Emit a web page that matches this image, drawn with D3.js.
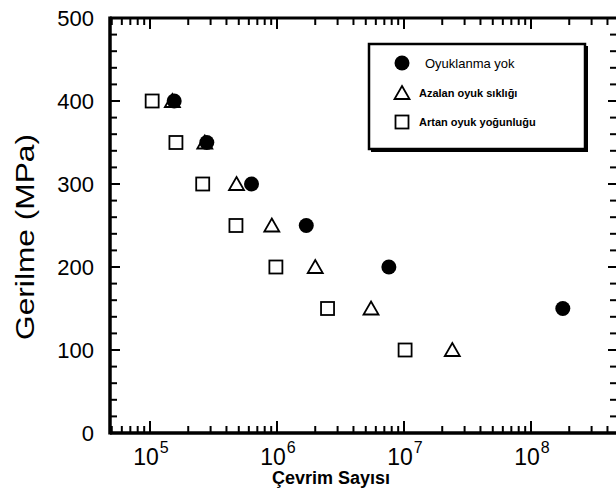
<!DOCTYPE html>
<html><head><meta charset="utf-8">
<script src="https://cdn.jsdelivr.net/npm/d3@7"></script>
<style>body{margin:0;background:#fff}svg{display:block}</style>
</head><body>
<script>
const W = 616, H = 496;
// Data
const seriesNames = ["Oyuklanma yok", "Azalan oyuk sıklığı", "Artan oyuk yoğunluğu"];
const noPitStress = [400, 350, 300, 250, 200, 150];
const noPitCycles = [1.55e5, 2.8e5, 6.3e5, 1.7e6, 7.6e6, 1.78e8];
const decreasingStress = [400, 350, 300, 250, 200, 150, 100];
const decreasingCycles = [1.5e5, 2.7e5, 4.8e5, 9.1e5, 2.0e6, 5.5e6, 2.4e7];
const increasingStress = [400, 350, 300, 250, 200, 150, 100];
const increasingCycles = [1.04e5, 1.6e5, 2.6e5, 4.75e5, 9.8e5, 2.5e6, 1.02e7];
const yTicks = [0, 100, 200, 300, 400, 500];
const xDecades = [5, 6, 7, 8];
const xTitle = "Çevrim Sayısı";
const yTitle = "Gerilme (MPa)";

const L = 110, R = 618, T = 18, B = 433;
const x = d3.scaleLog().domain([Math.pow(10, 4.685), Math.pow(10, 8.685)]).range([L, R]);
const y = d3.scaleLinear().domain([0, 500]).range([B, T]);

const svg = d3.select("body").append("svg").attr("width", W).attr("height", H)
  .style("font-family", "Liberation Sans, Arial, sans-serif");

// tick values
const minorX = [];
for (let e = 4; e <= 8; e++) for (let m = 2; m <= 9; m++) {
  const v = m * Math.pow(10, e);
  if (v >= x.domain()[0] && v <= x.domain()[1]) minorX.push(v);
}
const majorX = xDecades.map(e => Math.pow(10, e));
const minorY = d3.range(20, 500, 20).filter(v => v % 100 !== 0);

const axes = svg.append("g");
function ticksX(vals, y0, len) {
  axes.append("g").selectAll("line").data(vals).join("line")
    .attr("x1", d => x(d)).attr("x2", d => x(d)).attr("y1", y0).attr("y2", y0 + len)
    .attr("stroke", "#000").attr("stroke-width", 2);
}
function ticksY(vals, x0, len) {
  axes.append("g").selectAll("line").data(vals).join("line")
    .attr("y1", d => y(d)).attr("y2", d => y(d)).attr("x1", x0).attr("x2", x0 + len)
    .attr("stroke", "#000").attr("stroke-width", 2);
}
ticksX(minorX, B, -7); ticksX(majorX, B, -12);
ticksX(minorX, T, 7); ticksX(majorX, T, 11);
ticksY(minorY, L, 7); ticksY(yTicks, L, 10);
ticksY(minorY, R, -8); ticksY(yTicks, R, -10);

// frame
function seg(x1, y1, x2, y2, w) {
  axes.append("line").attr("x1", x1).attr("x2", x2).attr("y1", y1).attr("y2", y2)
    .attr("stroke", "#000").attr("stroke-width", w);
}
seg(L, T, R, T, 3);
seg(R, T, R, B, 3);
seg(L, B, R, B, 3.5);
seg(L, T - 1.5, L, B + 1.5, 3.5);

// y labels
svg.append("g").selectAll("text").data(yTicks).join("text")
  .attr("x", 94).attr("y", d => y(d)).attr("dy", "0.36em")
  .attr("text-anchor", "end").attr("font-size", 22).text(d => d);
// x labels
const xl = svg.append("g").selectAll("text").data(xDecades).join("text")
  .attr("x", d => x(Math.pow(10, d)) + 1).attr("y", 465)
  .attr("text-anchor", "middle").attr("font-size", 23);
xl.append("tspan").text("10");
xl.append("tspan").attr("font-size", 16).attr("dy", -12).attr("dx", 1).text(d => d);

// titles
svg.append("text").attr("x", 331).attr("y", 484).attr("text-anchor", "middle")
  .attr("font-size", 18).attr("font-weight", "bold").text(xTitle);
svg.append("text").attr("transform", "translate(34,237) rotate(-90)")
  .attr("text-anchor", "middle").attr("font-size", 25)
  .attr("textLength", 206).attr("lengthAdjust", "spacingAndGlyphs").text(yTitle);

// markers
const sym = {
  square: (g, cx, cy) => g.append("rect").attr("x", cx - 6.5).attr("y", cy - 6.5).attr("width", 13).attr("height", 13)
    .attr("fill", "none").attr("stroke", "#000").attr("stroke-width", 1.8),
  triangle: (g, cx, cy) => g.append("path").attr("d", `M${cx},${cy - 7}L${cx + 7.5},${cy + 6}L${cx - 7.5},${cy + 6}Z`)
    .attr("fill", "none").attr("stroke", "#000").attr("stroke-width", 1.8),
  circle: (g, cx, cy) => g.append("circle").attr("cx", cx).attr("cy", cy).attr("r", 7.5).attr("fill", "#000")
};
const marks = svg.append("g");
increasingCycles.forEach((c, i) => sym.square(marks, x(c), y(increasingStress[i])));
decreasingCycles.forEach((c, i) => sym.triangle(marks, x(c), y(decreasingStress[i])));
noPitCycles.forEach((c, i) => sym.circle(marks, x(c), y(noPitStress[i])));

// legend
const lg = svg.append("g");
lg.append("rect").attr("x", 371).attr("y", 46).attr("width", 217).attr("height", 106).attr("fill", "#000");
lg.append("rect").attr("x", 369).attr("y", 44).attr("width", 216).attr("height", 105)
  .attr("fill", "#fff").attr("stroke", "#000").attr("stroke-width", 2.5);
const legendRows = [
  { name: seriesNames[0], sym: "circle", y: 63, tx: 425, size: 13, weight: "normal" },
  { name: seriesNames[1], sym: "triangle", y: 93, tx: 419, size: 11, weight: "bold" },
  { name: seriesNames[2], sym: "square", y: 122, tx: 419, size: 11, weight: "bold" }
];
legendRows.forEach(r => {
  sym[r.sym](lg, 402, r.y);
  lg.append("text").attr("x", r.tx).attr("y", r.y).attr("dy", "0.35em")
    .attr("font-size", r.size).attr("font-weight", r.weight).text(r.name);
});
</script>
</body></html>
